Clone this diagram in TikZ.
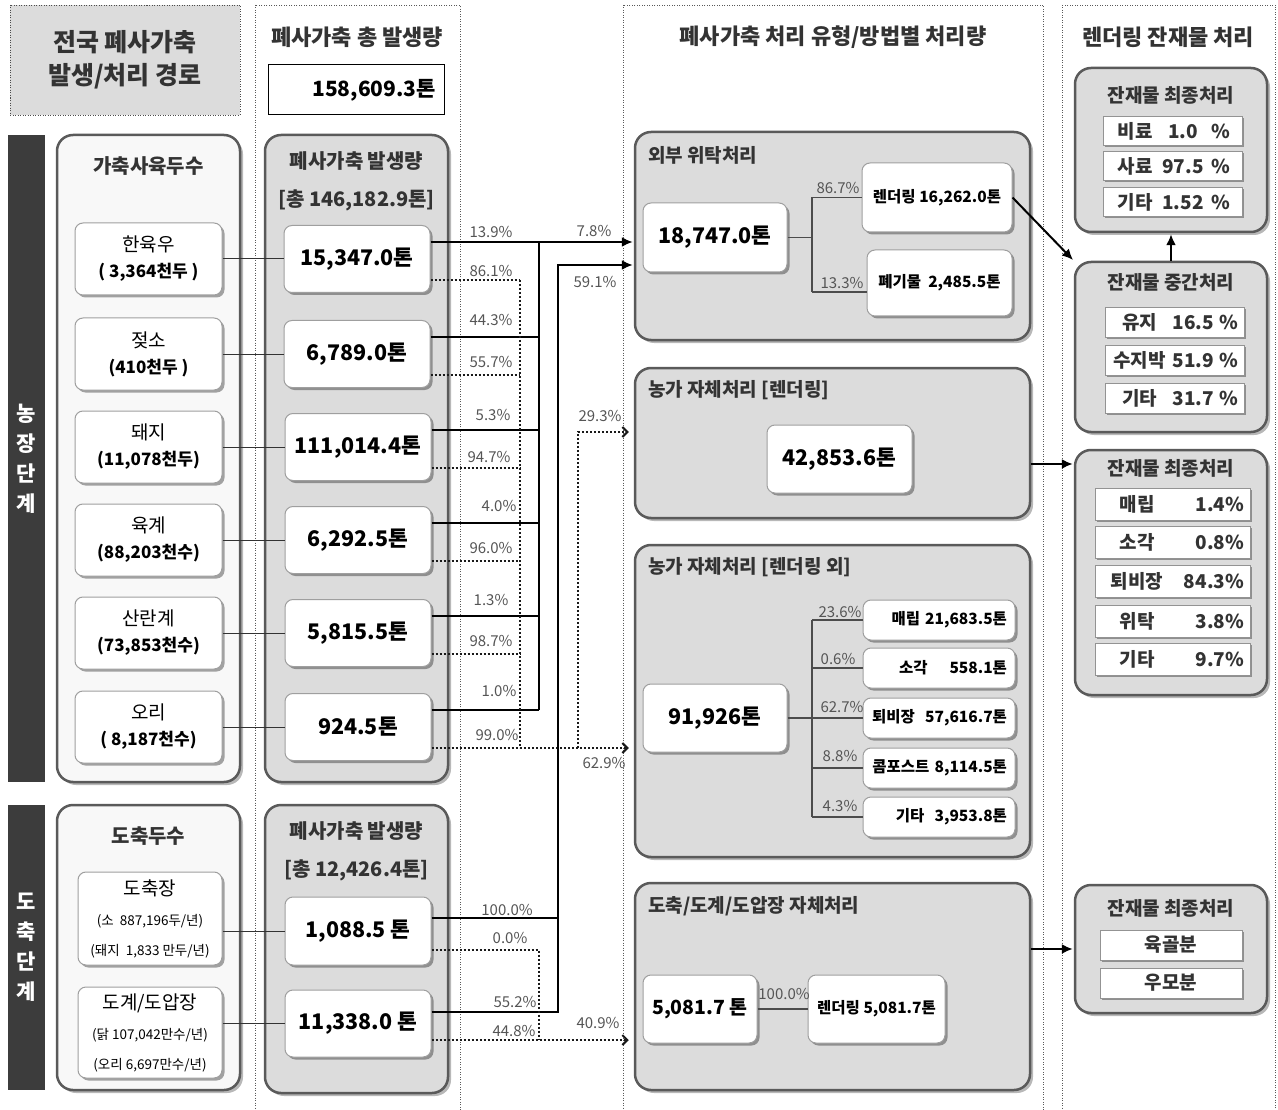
\documentclass[tikz,border=0pt]{standalone}
\usepackage{fontspec}
\setmainfont{Noto Sans CJK KR}
\usetikzlibrary{shadows,arrows.meta,calc}
\definecolor{pfill}{HTML}{DCDCDC}
\definecolor{pline}{HTML}{5A5A5A}
\definecolor{lfill}{HTML}{F8F8F8}
\definecolor{barc}{HTML}{3C3C3C}
\definecolor{ttl}{HTML}{333333}
\definecolor{pctc}{HTML}{555555}
\newcommand\myfs[2]{\fontsize{#1}{#2}\selectfont}
\newcommand\mysub{\myfs{17}{24}\bfseries}
\newcommand\mysmall{\myfs{13.5}{27}}
\begin{document}
\begin{tikzpicture}[x=1pt,y=-1pt,
 wh/.style 2 args={minimum width=#1pt,minimum height=#2pt},
 shd/.style={drop shadow={shadow xshift=3pt,shadow yshift=-3pt,opacity=0.28,fill=black}},
 panel/.style={shd,draw=pline,line width=2.5pt,rounded corners=16pt,fill=pfill,inner sep=0pt},
 lpanel/.style={panel,fill=lfill},
 wbox/.style={draw=gray!75,line width=1pt,fill=white,rounded corners=8pt,inner sep=0pt,align=center,
   drop shadow={shadow xshift=2.5pt,shadow yshift=-2.5pt,opacity=0.35,fill=black}},
 itembox/.style={draw=gray!85,line width=0.8pt,fill=white,inner sep=0pt,align=center,
   font=\myfs{19}{22}\bfseries,text=ttl,
   drop shadow={shadow xshift=2pt,shadow yshift=-2pt,opacity=0.35,fill=black}},
 hdr/.style={fill=pfill,draw=gray!60!black,line width=0.8pt,dash pattern=on 1pt off 1.5pt,align=center,
   font=\myfs{25}{33}\bfseries,text=ttl,inner sep=0pt},
 bar/.style={fill=barc,draw=none,inner sep=0pt},
 bartext/.style={text=white,align=center,font=\myfs{21}{30}\bfseries,inner sep=0pt},
 colb/.style={draw=gray!70!black,line width=0.8pt,dash pattern=on 1pt off 1.5pt},
 ctitle/.style={font=\myfs{22}{26}\bfseries,text=ttl,inner sep=0pt},
 gtitle/.style={font=\myfs{20}{38}\bfseries,text=ttl,align=center,inner sep=0pt},
 ptitle/.style={font=\myfs{19}{22}\bfseries,text=ttl,anchor=west,inner sep=0pt},
 qtitle/.style={font=\myfs{19}{22}\bfseries,text=ttl,inner sep=0pt},
 abox/.style={wbox,wh={147}{72},font=\myfs{19}{26}},
 vbox/.style={wbox,wh={146}{67},font=\myfs{21.5}{25}\bfseries},
 sbox/.style={wbox,font=\myfs{15.5}{18}\bfseries},
 pct/.style={font=\myfs{15}{17},text=pctc,inner sep=0pt},
 sl/.style={line width=2pt,black},
 dl/.style={line width=2.3pt,black!90,dash pattern=on 2.2pt off 1.8pt},
 arr/.style={-{Latex[length=11pt,width=10pt]},shorten >=1pt},
 darr/.style={-{Straight Barb[length=5pt,width=10pt,line width=2pt]},shorten >=5pt},
 tl/.style={line width=1.2pt,black!70},
 cl/.style={line width=1pt,black!80}
]
\useasboundingbox (0,0) rectangle (1278,1110);

% ---------------- column 1
\node[hdr,wh={230}{110}] (hdr) at (125,60) {전국 폐사가축\\발생/처리 경로};
\node[bar,wh={37}{647}] (barF) at (26.5,458.5) {};
\node[bartext] (barFt) at (barF) {농\\장\\단\\계};
\node[bar,wh={37}{285}] (barS) at (26.5,947.5) {};
\node[bartext] (barSt) at (barS) {도\\축\\단\\계};

\node[lpanel,wh={183}{647}] (pA) at (148.5,458.5) {};
\node[qtitle,font=\myfs{20}{24}\bfseries] (pAt) at (148.5,166) {가축사육두수};
\node[abox] (a1) at (148.5,259) {한육우\\\mysub ( 3,364천두 )};
\node[abox] (a2) at (148.5,354) {젖소\\\mysub (410천두 )};
\node[abox] (a3) at (148.5,447) {돼지\\\mysub (11,078천두)};
\node[abox] (a4) at (148.5,540) {육계\\\mysub (88,203천수)};
\node[abox] (a5) at (148.5,633) {산란계\\\mysub (73,853천수)};
\node[abox] (a6) at (148.5,727) {오리\\\mysub ( 8,187천수)};

\node[lpanel,wh={183}{285}] (pB) at (148.5,947.5) {};
\node[qtitle,font=\myfs{20}{24}\bfseries] (pBt) at (148.5,836) {도축두수};
\node[wbox,wh={144}{93},font=\myfs{19}{30}] (b1) at (150,918.5) {도축장\\\mysmall (소~~887,196두/년)\\\mysmall (돼지~~1,833 만두/년)};
\node[wbox,wh={144}{91},font=\myfs{19}{30}] (b2) at (150,1032.5) {도계/도압장\\\mysmall (닭 107,042만수/년)\\\mysmall (오리 6,697만수/년)};

% ---------------- column 2
\draw[colb] (255,5) rectangle (460,1125);
\node[ctitle] (c2t) at (357,37) {폐사가축 총 발생량};
\node[draw=black,line width=1pt,fill=white,wh={176}{50},text width=160pt,align=right,
      font=\myfs{21}{25}\bfseries,inner sep=0pt] (tot) at (356,90) {158,609.3톤};
\node[panel,wh={183}{647}] (pG1) at (356.5,458.5) {};
\node[gtitle] (pG1t) at (356.5,181) {폐사가축 발생량\\{[}총 146,182.9톤{]}};
\node[vbox] (v1) at (357,259) {15,347.0톤};
\node[vbox] (v2) at (357,354) {6,789.0톤};
\node[vbox] (v3) at (358,447) {111,014.4톤};
\node[vbox] (v4) at (358,540) {6,292.5톤};
\node[vbox] (v5) at (358,633) {5,815.5톤};
\node[vbox] (v6) at (358,727) {924.5톤};

\node[panel,wh={183}{288}] (pG2) at (356.5,949) {};
\node[gtitle] (pG2t) at (356.5,851) {폐사가축 발생량\\{[}총 12,426.4톤{]}};
\node[vbox,wh={146}{68}] (w1) at (358,931) {1,088.5 톤};
\node[vbox] (w2) at (358,1023.5) {11,338.0 톤};

% animals -> generation
\foreach \i in {1,...,6} {\draw[cl] (a\i.east) -- (v\i.west);}
\draw[cl] (w1.west -| b1.east) -- (w1.west);
\draw[cl] (w2.west -| b2.east) -- (w2.west);

% ---------------- column 3
\draw[colb] (623,5) rectangle (1043,1125);
\node[ctitle] (c3t) at (833,37) {폐사가축 처리 유형/방법별 처리량};

\node[panel,wh={395}{208}] (P1) at (832.5,236) {};
\node[ptitle] (P1t) at (648,155) {외부 위탁처리};
\node[vbox,wh={144}{69}] (c1) at (715,237.5) {18,747.0톤};
\node[sbox,wh={150}{69}] (r1) at (937,197.5) {렌더링 16,262.0톤};
\node[sbox,wh={145}{66}] (r2) at (939.5,283) {폐기물~~2,485.5톤};

\node[panel,wh={395}{150}] (P2) at (832.5,443) {};
\node[ptitle] (P2t) at (648,390) {농가 자체처리 {[}렌더링{]}};
\node[vbox,wh={145}{68}] (c2) at (839.5,459) {42,853.6톤};

\node[panel,wh={395}{312}] (P3) at (832.5,701) {};
\node[ptitle] (P3t) at (648,567) {농가 자체처리 {[}렌더링 외{]}};
\node[vbox,wh={144}{68}] (c3) at (715,718) {91,926톤};
\node[sbox,wh={152}{40},text width=136pt,align=right] (t1) at (939,620) {매립 21,683.5톤};
\node[sbox,wh={152}{40},text width=136pt,align=right] (t2) at (939,668) {소각\hspace{22pt}558.1톤};
\node[sbox,wh={152}{40},text width=136pt,align=right] (t3) at (939,718) {퇴비장~~57,616.7톤};
\node[sbox,wh={152}{40},text width=136pt,align=right] (t4) at (939,768) {콤포스트 8,114.5톤};
\node[sbox,wh={152}{40},text width=136pt,align=right] (t5) at (939,817) {기타~~3,953.8톤};

\node[panel,wh={395}{207}] (P4) at (832.5,986.5) {};
\node[ptitle] (P4t) at (648,906) {도축/도계/도압장 자체처리};
\node[vbox,wh={114}{68},font=\myfs{19.5}{24}\bfseries] (c4) at (700,1009) {5,081.7 톤};
\node[sbox,wh={137}{68}] (r4) at (876.5,1009) {렌더링 5,081.7톤};

% trees inside panels
\coordinate (tx) at (812,0);
\draw[tl] (c1.east) -- (c1.east -| tx);
\draw[tl] (r1.west -| tx) -- (r1.west);
\draw[tl] ([yshift=-9pt]r2.west -| tx) -- ([yshift=-9pt]r2.west);
\draw[tl] (r1.west -| tx) -- ([yshift=-9pt]r2.west -| tx);
\node[pct] (q1) at (838,188) {86.7\%};
\node[pct] (q2) at (842,283) {13.3\%};

\draw[tl] (c3.east) -- (c3.east -| tx);
\draw[tl] (t1.west -| tx) -- (t5.west -| tx);
\foreach \i in {1,...,5} {\draw[tl] (t\i.west -| tx) -- (t\i.west);}
\node[pct] (q3) at (840,612) {23.6\%};
\node[pct] (q4) at (838,659) {0.6\%};
\node[pct] (q5) at (842,707) {62.7\%};
\node[pct] (q6) at (840,756) {8.8\%};
\node[pct] (q7) at (840,806) {4.3\%};

\draw[tl] (c4.east) -- (r4.west);
\node[pct] (q8) at (784,994) {100.0\%};

% ---------------- column 4
\draw[colb] (1062,5) rectangle (1275,1125);
\node[ctitle] (c4t) at (1168,37) {렌더링 잔재물 처리};

\node[panel,wh={192}{164}] (Q1) at (1171,150) {};
\node[qtitle] (Q1t) at (1171,95) {잔재물 최종처리};
\node[itembox,wh={139}{29}] (f1) at (1172.5,131) {\makebox[56pt]{비료}\makebox[40pt]{1.0}\makebox[35pt]{\%}};
\node[itembox,wh={139}{29}] (f2) at (1172.5,166) {\makebox[56pt]{사료}\makebox[40pt]{97.5}\makebox[35pt]{\%}};
\node[itembox,wh={139}{29}] (f3) at (1172.5,202) {\makebox[56pt]{기타}\makebox[40pt]{1.52}\makebox[35pt]{\%}};

\node[panel,wh={192}{170}] (Q2) at (1171,347) {};
\node[qtitle] (Q2t) at (1171,282) {잔재물 중간처리};
\node[itembox,wh={139}{30}] (m1) at (1174.5,322) {\makebox[62pt]{유지}\makebox[46pt]{16.5}\makebox[24pt]{\%}};
\node[itembox,wh={139}{30}] (m2) at (1174.5,360) {\makebox[62pt]{수지박}\makebox[46pt]{51.9}\makebox[24pt]{\%}};
\node[itembox,wh={139}{30}] (m3) at (1174.5,398) {\makebox[62pt]{기타}\makebox[46pt]{31.7}\makebox[24pt]{\%}};

\node[panel,wh={192}{245}] (Q3) at (1171,572.5) {};
\node[qtitle] (Q3t) at (1171,468) {잔재물 최종처리};
\node[itembox,wh={155}{32},text width=143pt] (g1) at (1172.5,504) {\makebox[72pt]{매립}\hfill 1.4\%};
\node[itembox,wh={155}{32},text width=143pt] (g2) at (1172.5,542) {\makebox[72pt]{소각}\hfill 0.8\%};
\node[itembox,wh={155}{32},text width=143pt] (g3) at (1172.5,581) {\makebox[72pt]{퇴비장}\hfill 84.3\%};
\node[itembox,wh={155}{32},text width=143pt] (g4) at (1172.5,621) {\makebox[72pt]{위탁}\hfill 3.8\%};
\node[itembox,wh={155}{32},text width=143pt] (g5) at (1172.5,659) {\makebox[72pt]{기타}\hfill 9.7\%};

\node[panel,wh={192}{128}] (Q4) at (1171,949) {};
\node[qtitle] (Q4t) at (1171,908) {잔재물 최종처리};
\node[itembox,wh={142}{30}] (h1) at (1171,945) {육골분};
\node[itembox,wh={142}{30}] (h2) at (1171,983) {우모분};

% column 4 arrows
\draw[sl,arr] (r1.east) -- (Q2.north west);
\draw[sl,arr] (Q2.north) -- (Q1.south);
\draw[sl,arr] ([yshift=-21pt]P2.east) -- ([yshift=-21pt]P2.east -| Q3.west);
\draw[sl,arr] (Q4.west -| P4.east) -- (Q4.west);

% ---------------- connectors column 2 -> column 3
\coordinate (busS) at (539,0);
\coordinate (busD) at (520,0);
\coordinate (j591) at (558,265);
\coordinate (j293) at (578,432);

% farm solid
\foreach \i in {1,...,6} {\draw[sl] ([yshift=17pt]v\i.east) -- ([yshift=17pt]v\i.east -| busS);}
\draw[sl] ([yshift=17pt]v1.east -| busS) -- ([yshift=17pt]v6.east -| busS);
\draw[sl,arr] ([yshift=17pt]v1.east -| busS) -- ([yshift=17pt]v1.east -| P1.west);
% farm dotted
\foreach \i in {1,...,6} {\draw[dl] ([yshift=-21pt]v\i.east) -- ([yshift=-21pt]v\i.east -| busD);}
\draw[dl] ([yshift=-21pt]v1.east -| busD) -- ([yshift=-21pt]v6.east -| busD);
\draw[dl,darr] ([yshift=-21pt]v6.east -| busD) -- ([yshift=-21pt]v6.east -| P3.west);
\draw[dl,darr] ([yshift=-21pt]v6.east -| j293) -- (j293) -- (j293 -| P2.west);
% slaughter solid
\draw[sl] ([yshift=13pt]w1.east) -- ([yshift=13pt]w1.east -| j591);
\draw[sl,arr] ([yshift=11.5pt]w2.east) -| (j591) -- (j591 -| P1.west);
% slaughter dotted
\draw[dl] ([yshift=-19pt]w1.east) -- ([yshift=-19pt]w1.east -| busS) -- ([yshift=-16.5pt]w2.east -| busS);
\draw[dl,darr] ([yshift=-16.5pt]w2.east) -- ([yshift=-16.5pt]w2.east -| P4.west);

% percentage labels
\node[pct] (p1) at (491,232) {13.9\%};
\node[pct] (p2) at (491,271) {86.1\%};
\node[pct] (p3) at (491,320) {44.3\%};
\node[pct] (p4) at (491,362) {55.7\%};
\node[pct] (p5) at (493,415) {5.3\%};
\node[pct] (p6) at (489,457) {94.7\%};
\node[pct] (p7) at (499,506) {4.0\%};
\node[pct] (p8) at (491,548) {96.0\%};
\node[pct] (p9) at (491,600) {1.3\%};
\node[pct] (p10) at (491,641) {98.7\%};
\node[pct] (p11) at (499,691) {1.0\%};
\node[pct] (p12) at (497,735) {99.0\%};
\node[pct] (p13) at (594,231) {7.8\%};
\node[pct] (p14) at (595,282) {59.1\%};
\node[pct] (p15) at (600,416) {29.3\%};
\node[pct] (p16) at (604,763) {62.9\%};
\node[pct] (p17) at (507,910) {100.0\%};
\node[pct] (p18) at (510,938) {0.0\%};
\node[pct] (p19) at (515,1002) {55.2\%};
\node[pct] (p20) at (514,1031) {44.8\%};
\node[pct] (p21) at (598,1023) {40.9\%};
\end{tikzpicture}
\end{document}
